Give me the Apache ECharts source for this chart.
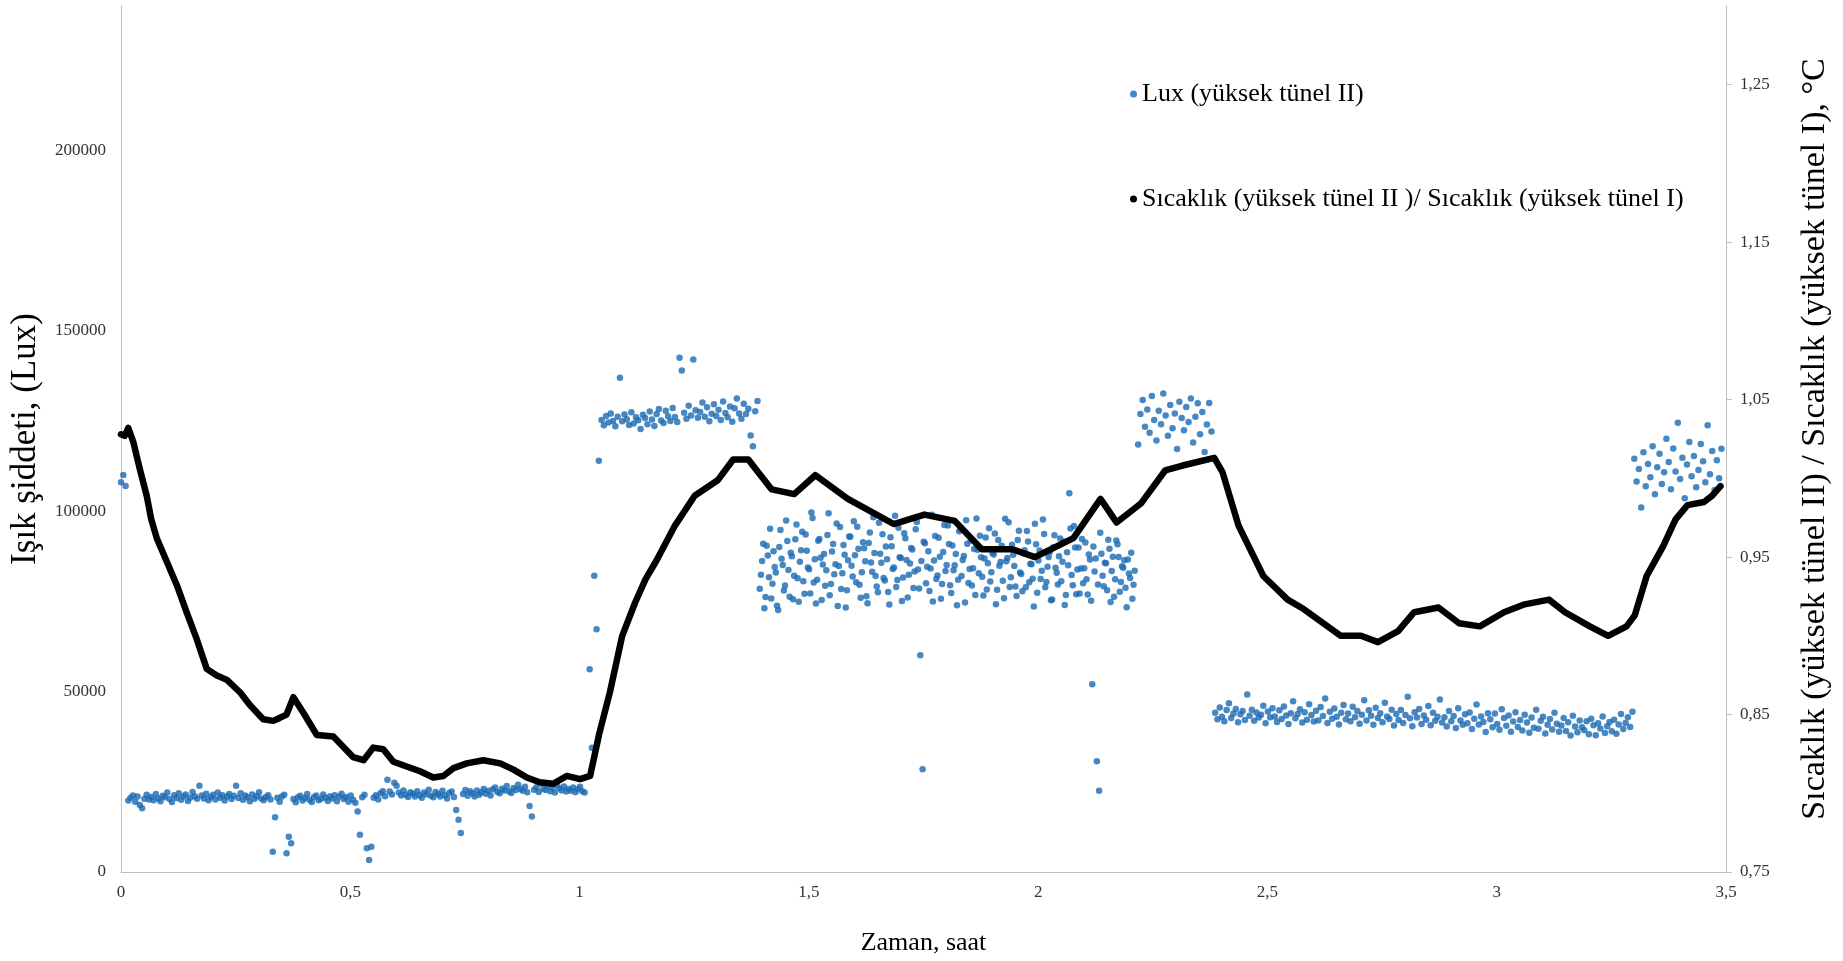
<!DOCTYPE html>
<html>
<head>
<meta charset="utf-8">
<script src="https://cdn.jsdelivr.net/npm/echarts@6/dist/echarts.min.js"></script>
<style>html,body{margin:0;padding:0;background:#fff;}#chart{width:1843px;height:961px;}</style>
</head>
<body>
<div id="chart"></div>
<script>
// ---- data (Lux values in thousands of lux, logger step 0.005 h) ----
const STEP = 0.005;
const xTicks = [0, 0.5, 1, 1.5, 2, 2.5, 3, 3.5];
const leftTicks = [0, 50000, 100000, 150000, 200000];
const rightTicks = [0.75, 0.85, 0.95, 1.05, 1.15, 1.25];

const luxStart0 = 0.000;
const luxSeg0 = [108, 110, 107];

const luxStart1 = 0.016;
const luxSeg1 = [
 19.8,20.6,21.2,19.5,20.9,18.6,17.7,20.3,21.4,20.1,
 20.8,19.9,21.6,20.4,19.6,21.1,20.7,22.0,20.2,19.4,
 21.3,20.5,21.8,20.0,20.9,21.5,19.7,20.6,22.2,21.0,
 20.3,23.9,21.2,20.4,21.7,19.9,20.8,21.4,20.1,22.0,
 20.6,21.3,19.8,20.9,21.6,20.2,21.1,23.9,20.5,21.8,
 20.0,21.2,20.7,19.6,21.5,20.3,21.0,22.1,20.4,19.9,
 20.8,21.3,20.1,5.6,15.2,20.6,19.5,20.9,21.4,5.2,
 9.8,8.0,20.2,19.3,20.7,21.1,19.8,20.5,21.6,20.0,
 19.4,20.8,21.2,19.9,20.3,21.5,20.6,19.7,21.0,20.4,
 21.3,19.6,20.9,21.7,20.2,20.8,19.5,21.2,20.0,19.2,
 16.8,10.3,20.7,21.4,6.6,3.3,7.0,20.6,21.3,20.1,
 21.8,22.4,21.0,25.6,22.3,21.5,24.7,23.9,22.0,21.2,
 22.6,21.4,20.8,22.1,21.7,20.9,22.4,21.3,20.6,22.0,
 21.5,22.8,21.1,20.7,22.2,21.6,20.9,22.5,21.3,20.4,
 21.9,22.3,20.8,17.2,14.5,10.8,21.6,22.7,21.1,22.4,
 21.8,20.9,22.6,21.4,22.1,23.0,21.7,22.5,21.2,22.9,
 23.4,22.2,21.8,23.1,22.6,23.8,22.4,21.9,23.3,22.7,
 24.2,23.0,22.5,23.6,22.1,18.3,15.4,22.8,23.5,22.2,
 24.6,23.1,22.7,23.9,22.4,23.3,22.0,24.1,23.2,22.6,
 23.7,22.3,23.0,22.5,23.4,22.1,22.9,23.6,22.4,22.0
];

const luxStart2 = 1.022;
const luxSeg2 = [56.2, 34.4, 82.1, 67.3, 114.0];

const luxStart3 = 1.048;
const luxSeg3 = [
 125.3,123.8,126.4,124.6,127.1,125.0,123.5,126.2,137.0,124.9,
 126.8,125.5,123.9,127.4,124.3,126.0,125.2,122.8,126.7,125.8,
 124.1,127.6,125.4,123.6,126.9,128.3,125.1,124.4,127.8,126.3,
 125.0,128.6,126.1,124.7,142.5,139.0,127.3,125.6,129.2,126.5,
 142.0,128.0,125.9,127.5,130.1,126.2,128.8,124.9,127.0,129.6,
 126.4,128.1,125.3,130.4,127.2,126.0,129.0,124.8,128.5,131.2,
 127.1,125.6,129.8,126.9,128.4,121.0,118.0,127.7,130.5
];

const luxStart4 = 1.393;
const luxSeg4 = [
 78.5,86.2,73.1,90.4,81.7,75.8,88.9,83.0,72.6,94.8,
 85.1,79.4,91.7,76.3,87.5,82.1,96.3,74.9,89.2,80.6,
 93.5,84.4,77.2,98.1,86.7,81.0,92.3,75.4,88.1,83.6,
 99.4,79.8,90.9,85.3,73.7,95.6,82.8,87.9,78.1,93.0,
 84.9,97.2,80.3,89.6,76.0,91.4,86.1,74.5,94.1,83.2,
 88.4,79.1,96.8,85.7,81.5,90.2,77.6,92.8,84.0,98.7,
 80.9,87.2,75.1,93.9,86.5,82.4,89.8,78.7,95.0,83.8,
 60.1,28.5,91.1,84.6,77.9,99.0,86.3,81.2,92.6,75.7,
 88.7,83.4,96.0,79.5,90.5,85.0,73.9,94.4,82.0,87.6,
 97.5,80.1,91.9,84.2,76.8,89.3,93.2,81.8,86.9,78.3,
 95.3,83.1,88.0,74.2,92.0,85.9,80.7,97.9,87.0,79.0,
 90.7,84.8,76.5,94.6,82.6,88.3,78.9,91.6,85.4,81.3,
 96.5,77.4,89.1,83.5,93.7,80.4,87.3,75.3,90.0,84.3,
 79.7,92.4,86.0,74.0,88.6,105.0,82.3,95.9,77.0,89.9,
 84.1,80.0,91.3,76.9,86.6,52.0,83.3,30.7,22.5,88.2,
 79.2,85.6,92.1,74.8,87.4,81.1,90.8,77.7,84.7,86.4,
 73.4,82.7,88.5,79.6
];

// second logger channel readings in the same period (interleaved half a step later)
const luxStart4b = 1.3955;
const luxSeg4b = [
 82.4,91.0,76.2,87.7,95.1,79.9,84.5,73.8,90.1,86.8,
 78.0,97.4,83.7,88.5,75.6,92.2,81.4,86.0,94.3,77.1,
 89.0,83.9,99.6,80.2,74.4,91.8,87.1,85.2,79.3,93.4,
 76.7,88.8,82.5,96.6,84.8,78.4,90.6,73.3,86.4,92.9,
 81.9,87.8,95.7,79.6,83.1,89.7,76.4,91.2,85.8,98.3,
 82.0,77.5,88.2,93.6,80.8,86.7,74.1,90.3,84.4,79.0,
 95.4,87.0,81.6,92.5,76.1,85.5,89.4,83.3,97.0,78.6,
 86.2,91.5,80.0,88.9,84.1,75.0,93.1,82.2,87.4,79.8,
 96.2,85.1,90.9,77.3,83.6,88.1,81.0,94.9,86.5,74.7,
 91.0,84.0,79.4,89.5,98.0,82.8,87.2,76.6,92.7,85.6,
 80.5,88.4,93.8,78.2,84.9,90.4,75.9,86.1,96.9,81.7,
 87.9,79.1,92.0,83.0,77.8,89.2,94.5,80.3,85.3,73.6,
 90.8,86.3,81.2,97.7,78.9,84.6,88.7,75.5,93.3,82.9,
 87.5,80.6,91.6,76.8,85.0,95.2,79.5,89.9,83.8,77.2,
 92.3,84.2,81.1,88.0,75.2,90.2,86.9,79.7,94.0,82.1,
 85.7,78.1,89.6,83.4,76.3,91.9,87.3,80.4,84.3,78.8,
 86.6,81.5,75.7,83.5
];

const luxStart5 = 2.218;
const luxSeg5 = [
 118.5,126.9,130.8,123.4,128.2,121.7,131.9,125.3,119.6,127.8,
 124.1,132.6,126.5,120.9,129.4,123.0,127.1,117.2,130.3,125.8,
 122.4,128.9,124.7,131.2,119.0,126.2,129.9,121.3,127.5,116.4,
 124.0,130.0,122.1
];

const luxStart6 = 2.386;
const luxSeg6 = [
 44.1,42.3,45.6,43.0,41.8,44.9,46.8,42.7,43.9,45.2,
 41.5,43.7,44.6,42.1,49.2,43.3,45.0,41.9,44.2,42.8,
 43.6,46.1,41.2,44.5,42.9,45.4,43.1,41.6,44.8,42.4,
 45.9,43.4,41.0,44.0,47.3,42.6,43.8,45.1,41.4,44.3,
 42.2,46.5,43.5,41.7,44.7,42.0,45.7,43.2,48.1,41.3,
 44.4,42.5,45.3,43.0,40.9,44.1,46.3,42.3,43.9,41.8,
 45.8,42.9,44.6,41.1,43.6,47.6,42.0,44.8,43.3,40.8,
 45.5,42.7,44.0,41.5,46.9,43.1,42.4,45.0,40.6,43.8,
 42.1,44.9,41.3,43.5,48.6,42.6,40.4,44.3,42.8,45.2,
 41.0,43.4,42.2,46.0,40.7,44.1,41.9,43.0,47.8,41.4,
 42.9,40.3,44.6,41.8,43.2,39.9,45.4,42.0,40.8,43.7,
 41.2,44.2,39.6,42.5,46.4,40.9,43.1,41.6,38.8,44.0,
 42.3,40.1,43.9,41.0,39.4,45.1,42.7,40.5,43.4,38.9,
 41.7,44.3,40.2,42.1,39.2,43.6,41.4,38.6,42.8,40.0,
 45.0,39.7,41.9,43.0,38.4,40.8,42.4,39.5,44.1,41.1,
 38.9,40.6,42.7,39.1,41.5,37.8,43.3,40.3,38.7,42.0,
 40.1,39.3,41.8,38.2,42.5,40.7,37.9,41.2,39.8,43.1,
 38.5,40.4,41.6,39.0,42.2,38.3,40.9,43.8,39.6,41.3,
 42.9,40.2,44.4
];

const luxStart7 = 3.300;
const luxSeg7 = [
 114.5,108.2,111.7,101.0,116.3,106.9,113.1,109.4,118.0,104.7,
 112.2,115.9,107.5,110.8,120.1,113.6,106.1,117.4,111.0,124.5,
 108.9,114.8,103.6,112.9,119.2,109.7,115.3,106.6,111.4,118.6,
 113.8,108.0,123.8,110.2,116.7,105.9,114.1,109.1,117.3
];

// ratio series: time (h) and ratio values
const ratioTimes = [
 0,0.008,0.016,0.027,0.041,0.056,0.066,0.078,0.100,0.122,0.143,0.165,0.187,0.208,0.231,0.260,0.281,0.310,0.332,0.347,
 0.361,0.376,0.398,0.427,0.463,0.506,0.529,0.550,0.572,0.594,0.623,0.652,0.681,0.703,0.725,0.754,0.790,0.827,0.856,0.885,
 0.913,0.942,0.972,1.001,1.023,1.043,1.066,1.093,1.121,1.144,1.168,1.208,1.251,1.302,1.335,1.368,1.384,1.419,1.468,1.514,
 1.585,1.685,1.752,1.818,1.877,1.944,1.993,2.077,2.136,2.171,2.224,2.277,2.313,2.384,2.402,2.437,2.491,2.544,2.579,2.660,
 2.704,2.741,2.785,2.820,2.873,2.918,2.963,3.016,3.061,3.114,3.149,3.203,3.243,3.283,3.301,3.327,3.363,3.390,3.416,3.452,
 3.470,3.488
];
const ratioValues = [
 1.028,1.027,1.032,1.023,1.006,0.989,0.974,0.962,0.947,0.932,0.915,0.898,0.879,0.875,0.872,0.864,0.856,0.847,0.846,0.848,
 0.850,0.861,0.851,0.837,0.836,0.823,0.821,0.829,0.828,0.820,0.817,0.814,0.810,0.811,0.816,0.819,0.821,0.819,0.815,0.810,
 0.807,0.806,0.811,0.809,0.811,0.838,0.864,0.900,0.921,0.936,0.948,0.970,0.989,0.999,1.012,1.012,1.006,0.993,0.990,1.002,
 0.987,0.971,0.977,0.973,0.955,0.955,0.950,0.962,0.987,0.972,0.984,1.005,1.008,1.013,1.004,0.970,0.938,0.923,0.917,0.900,
 0.900,0.896,0.903,0.915,0.918,0.908,0.906,0.915,0.920,0.923,0.915,0.906,0.900,0.906,0.913,0.938,0.957,0.974,0.983,0.985,
 0.989,0.995
];

// ---- build ----
function seg(start, vals) {
  return vals.map((v, k) => [+(start + k * STEP).toFixed(4), v * 1000]);
}
const luxData = [].concat(
  seg(luxStart0, luxSeg0), seg(luxStart1, luxSeg1), seg(luxStart2, luxSeg2),
  seg(luxStart3, luxSeg3), seg(luxStart4, luxSeg4), seg(luxStart4b, luxSeg4b),
  seg(luxStart5, luxSeg5), seg(luxStart6, luxSeg6), seg(luxStart7, luxSeg7)
);
const ratioData = ratioTimes.map((t, i) => [t, ratioValues[i]]);

const FONT = '"Liberation Serif", "Times New Roman", serif';
const AXIS_GRAY = '#bfbfbf';
const chart = echarts.init(document.getElementById('chart'), null, {renderer: 'canvas'});
chart.setOption({
  animation: false,
  backgroundColor: '#fff',
  grid: {left: 121, right: 117, top: 6, bottom: 89, containLabel: false},
  legend: {
    orient: 'vertical', left: 1125, top: 74, itemGap: 75,
    icon: 'circle', itemWidth: 7, itemHeight: 7,
    textStyle: {fontFamily: FONT, fontSize: 26, color: '#000', lineHeight: 30},
    data: ['Lux (yüksek tünel II)', 'Sıcaklık (yüksek tünel II )/ Sıcaklık (yüksek tünel I)']
  },
  xAxis: {
    type: 'value', min: 0, max: 3.5, interval: 0.5,
    name: 'Zaman, saat', nameLocation: 'middle', nameGap: 58,
    nameTextStyle: {fontFamily: FONT, fontSize: 26, color: '#000'},
    axisLine: {show: true, lineStyle: {color: AXIS_GRAY, width: 1}},
    axisTick: {show: false},
    splitLine: {show: false},
    axisLabel: {
      customValues: xTicks, margin: 12,
      fontFamily: FONT, fontSize: 17, color: '#333',
      formatter: v => String(v).replace('.', ',')
    }
  },
  yAxis: [{
    type: 'value', min: 0, max: 240000, interval: 50000, position: 'left',
    name: 'Işık şiddeti, (Lux)', nameLocation: 'middle', nameGap: 78, nameRotate: 90,
    nameTextStyle: {fontFamily: FONT, fontSize: 35, color: '#000'},
    axisLine: {show: true, lineStyle: {color: AXIS_GRAY, width: 1}},
    axisTick: {show: false},
    splitLine: {show: false},
    axisLabel: {
      customValues: leftTicks, margin: 15, fontFamily: FONT, fontSize: 17, color: '#333',
      formatter: v => String(v)
    }
  }, {
    type: 'value', min: 0.75, max: 1.30, interval: 0.05, position: 'right',
    name: 'Sıcaklık (yüksek tünel II) / Sıcaklık (yüksek tünel I), °C',
    nameLocation: 'middle', nameGap: 72, nameRotate: 90,
    nameTextStyle: {fontFamily: FONT, fontSize: 34, color: '#000'},
    axisLine: {show: true, lineStyle: {color: AXIS_GRAY, width: 1}},
    axisTick: {show: true, customValues: rightTicks, length: 6, lineStyle: {color: AXIS_GRAY}},
    splitLine: {show: false},
    axisLabel: {
      customValues: rightTicks, margin: 14, fontFamily: FONT, fontSize: 17, color: '#333',
      formatter: v => v.toFixed(2).replace('.', ',')
    }
  }],
  series: [{
    name: 'Lux (yüksek tünel II)', type: 'scatter', yAxisIndex: 0,
    data: luxData, symbol: 'circle', symbolSize: 6.5,
    itemStyle: {color: '#1a6ab3'}
  }, {
    name: 'Sıcaklık (yüksek tünel II )/ Sıcaklık (yüksek tünel I)', type: 'line', yAxisIndex: 1,
    data: ratioData, showSymbol: false, symbol: 'circle', symbolSize: 6,
    itemStyle: {color: '#000'},
    lineStyle: {color: '#000', width: 6.5, join: 'round', cap: 'round'}
  }]
});
</script>
</body>
</html>
